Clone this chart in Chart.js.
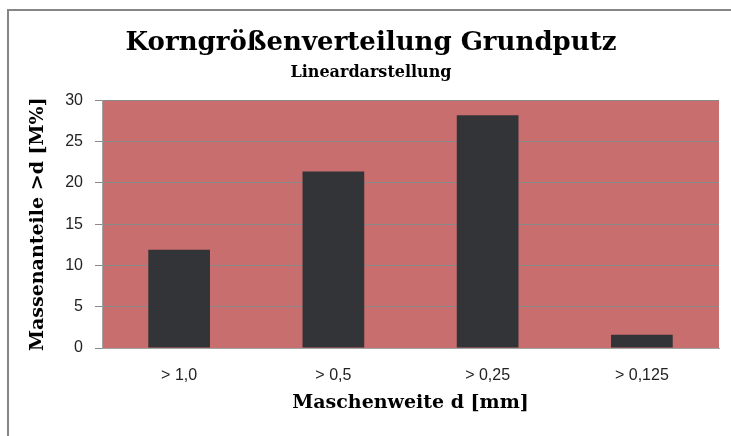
<!DOCTYPE html>
<html>
<head>
<meta charset="utf-8">
<title>Korngrößenverteilung Grundputz</title>
<script src="https://cdn.jsdelivr.net/npm/chart.js@4.4.1/dist/chart.umd.min.js"></script>
<style>
  body { margin: 0; overflow: hidden; background: #fff; }
  #frame {
    position: absolute; left: 7px; top: 9px; width: 740px; height: 440px;
    border-top: 2px solid #868686; border-left: 2px solid #868686;
  }
  #chart { display: block; }
</style>
</head>
<body>
<div id="frame">
  <canvas id="chart" width="726" height="425"></canvas>
</div>
<script>
// DATA
var categories = ['> 1,0', '> 0,5', '> 0,25', '> 0,125'];
var massShares = [11.9, 21.4, 28.2, 1.6];
var yTickValues = [0, 5, 10, 15, 20, 25, 30];

// fill the plot area red before anything else is drawn
var plotBackground = {
  id: 'plotBackground',
  beforeDraw: function(chart) {
    var a = chart.chartArea;
    var ctx = chart.ctx;
    ctx.save();
    ctx.fillStyle = '#c86e6e';
    ctx.fillRect(a.left, a.top, a.right - a.left, a.bottom - a.top);
    ctx.restore();
  }
};

var serif = 'DejaVu Serif';
var sans = 'Liberation Sans';

var ctx = document.getElementById('chart').getContext('2d');
new Chart(ctx, {
  type: 'bar',
  data: {
    labels: categories,
    datasets: [{
      label: 'Massenanteile',
      data: massShares,
      backgroundColor: '#323438',
      borderWidth: 0,
      categoryPercentage: 1.0,
      barPercentage: 0.4
    }]
  },
  options: {
    responsive: false,
    devicePixelRatio: 1,
    animation: false,
    layout: {
      padding: { left: 14, right: 16, top: 0, bottom: 22 }
    },
    plugins: {
      legend: { display: false },
      tooltip: { enabled: false },
      title: {
        display: true,
        text: 'Korngrößenverteilung Grundputz',
        color: '#000',
        font: { family: serif, size: 26, weight: 'bold' },
        padding: { top: 17, bottom: 0 }
      },
      subtitle: {
        display: true,
        text: 'Lineardarstellung',
        color: '#000',
        font: { family: serif, size: 16, weight: 'bold' },
        padding: { top: 4, bottom: 18 }
      }
    },
    scales: {
      x: {
        afterFit: function(scale) {
          // labels + axis title block under the plot
          scale.height = 66;
        },
        grid: { display: false, drawTicks: false },
        border: { color: '#a3a3a3', width: 1 },
        ticks: {
          color: '#222',
          font: { family: sans, size: 16 },
          padding: 18
        },
        title: {
          display: true,
          text: 'Maschenweite d [mm]',
          color: '#000',
          font: { family: serif, size: 19, weight: 'bold' },
          padding: { top: 7, bottom: 0 }
        }
      },
      y: {
        min: 0,
        max: 30,
        afterBuildTicks: function(scale) {
          scale.ticks = yTickValues.map(function(v) { return { value: v }; });
        },
        afterFit: function(scale) {
          scale.width = 79;
        },
        grid: {
          color: '#8a8a8a',
          tickColor: '#8a8a8a',
          tickLength: 7,
          lineWidth: 1
        },
        border: { color: '#a3a3a3', width: 1 },
        ticks: {
          color: '#222',
          font: { family: sans, size: 16 },
          padding: 12
        },
        title: {
          display: true,
          text: 'Massenanteile >d [M%]',
          color: '#000',
          font: { family: serif, size: 19, weight: 'bold' },
          padding: { top: 4, bottom: 0 }
        }
      }
    }
  },
  plugins: [plotBackground]
});
</script>
</body>
</html>
